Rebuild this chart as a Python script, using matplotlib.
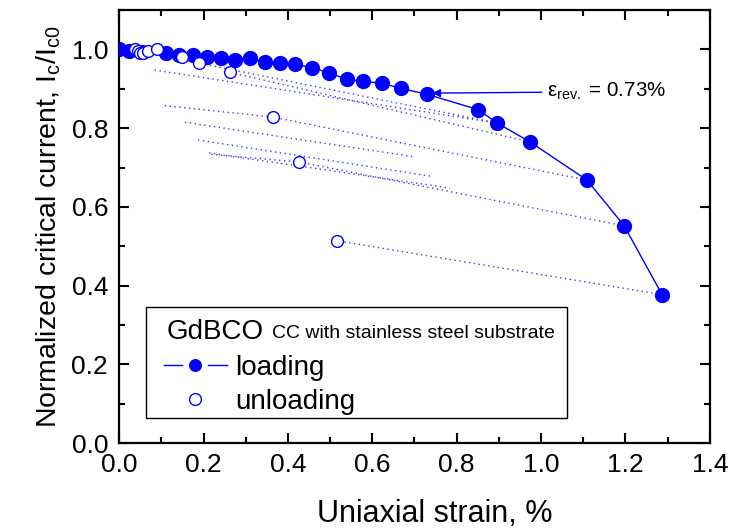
import matplotlib
matplotlib.use("Agg")
import matplotlib.pyplot as plt
from matplotlib.lines import Line2D
from matplotlib.patches import Rectangle
from matplotlib.ticker import MultipleLocator

plt.rcParams['font.family'] = ['Liberation Sans', 'DejaVu Sans']
plt.rcParams['mathtext.fontset'] = 'custom'
plt.rcParams['mathtext.rm'] = 'Liberation Sans'
plt.rcParams['mathtext.it'] = 'Liberation Sans:italic'

# loading curve (filled symbols)
strain_load = [0.0, 0.024, 0.055, 0.111, 0.142, 0.175, 0.209, 0.242, 0.275, 0.31,
               0.346, 0.382, 0.417, 0.457, 0.498, 0.54, 0.578, 0.623, 0.668, 0.73,
               0.851, 0.896, 0.974, 1.109, 1.197, 1.287]
ic_load = [1.0, 0.995, 0.993, 0.99, 0.985, 0.985, 0.982, 0.977, 0.972, 0.977,
           0.967, 0.965, 0.962, 0.954, 0.94, 0.924, 0.919, 0.914, 0.901, 0.886,
           0.847, 0.813, 0.765, 0.668, 0.552, 0.377]

# unloading points (open symbols)
strain_unload = [0.038, 0.045, 0.05, 0.057, 0.069, 0.09, 0.149, 0.19, 0.263,
                 0.365, 0.427, 0.517]
ic_unload = [1.0, 0.995, 0.992, 0.992, 0.995, 1.0, 0.982, 0.965, 0.942,
             0.828, 0.714, 0.514]

# unloading / reloading paths (dotted)
path_a_x, path_a_y = [1.287, 0.517], [0.377, 0.514]
path_b_x, path_b_y = [1.197, 0.427, 0.213], [0.552, 0.714, 0.734]
path_c_x, path_c_y = [1.109, 0.365, 0.102], [0.668, 0.828, 0.858]
path_d_x, path_d_y = [0.974, 0.263], [0.765, 0.942]
path_e_x, path_e_y = [0.896, 0.19], [0.813, 0.965]
path_f_x, path_f_y = [0.896, 0.076], [0.813, 0.949]
path_g_x, path_g_y = [0.156, 0.701], [0.815, 0.727]
path_h_x, path_h_y = [0.187, 0.739], [0.770, 0.678]
path_i_x, path_i_y = [0.213, 0.784], [0.737, 0.648]

eps_rev = 0.73
ic_rev = 0.886

xticks = [0.0, 0.2, 0.4, 0.6, 0.8, 1.0, 1.2, 1.4]
yticks = [0.0, 0.2, 0.4, 0.6, 0.8, 1.0]

blue = '#0000ff'

fig = plt.figure(figsize=(7.31, 5.30), dpi=100)
ax = fig.add_axes([0.163, 0.164, 0.808, 0.817])

paths = [(path_a_x, path_a_y), (path_b_x, path_b_y), (path_c_x, path_c_y),
         (path_d_x, path_d_y), (path_e_x, path_e_y), (path_f_x, path_f_y),
         (path_g_x, path_g_y), (path_h_x, path_h_y), (path_i_x, path_i_y)]
for px, py in paths:
    ax.plot(px, py, linestyle=(0, (1, 2.5)), color='#3a3aff', lw=1.0, zorder=1)

ax.plot(strain_load, ic_load, '-o', color=blue, lw=1.0, ms=10,
        markerfacecolor=blue, markeredgecolor=blue, zorder=3)
ax.plot(strain_unload, ic_unload, 'o', ms=8.5, markerfacecolor='white',
        markeredgecolor=blue, markeredgewidth=1.0, linestyle='none', zorder=4)

ax.annotate(r'$\mathregular{\varepsilon_{rev.}}$ = 0.73%',
            xy=(eps_rev + 0.012, ic_rev + 0.003), xytext=(1.015, 0.879),
            fontsize=14.8, va='baseline', ha='left',
            arrowprops=dict(arrowstyle='-|>', color=blue, lw=1.0,
                            mutation_scale=12, shrinkA=2, shrinkB=0))

ax.set_xlim(0, 1.4)
ax.set_ylim(0, 1.1)
ax.set_xticks(xticks)
ax.set_yticks(yticks)
ax.set_xticklabels([f'{t:.1f}' for t in xticks])
ax.set_yticklabels([f'{t:.1f}' for t in yticks])
ax.xaxis.set_minor_locator(MultipleLocator(0.1))
ax.yaxis.set_minor_locator(MultipleLocator(0.1))
ax.tick_params(which='both', direction='in', top=True, right=True, width=1.5,
               labelsize=19)
ax.tick_params(axis='x', pad=7)
ax.tick_params(axis='y', pad=8)
ax.tick_params(which='major', length=7)
ax.tick_params(which='minor', length=4)
for s in ax.spines.values():
    s.set_linewidth(1.6)

ax.set_xlabel('Uniaxial strain, %', fontsize=22)
ax.xaxis.set_label_coords(0.535, -0.128)
ax.set_ylabel(r'Normalized critical current, I$\mathregular{_c}$/I$\mathregular{_{c0}}$',
              fontsize=20.5, labelpad=6)

# legend box
ax.add_patch(Rectangle((0.0457, 0.0577), 0.712, 0.257, transform=ax.transAxes,
                       fill=False, edgecolor='black', lw=1.0, zorder=5))
ax.text(0.081, 0.257, 'GdBCO', transform=ax.transAxes, fontsize=20,
        va='center', ha='left', zorder=6)
ax.text(0.259, 0.254, 'CC with stainless steel substrate',
        transform=ax.transAxes, fontsize=14, va='center', ha='left', zorder=6)
h_load = Line2D([], [], color=blue, lw=1.0, marker='o', ms=13.6, mew=4.2,
                markerfacecolor=blue, markeredgecolor='white')
h_unload = Line2D([], [], color=blue, lw=0, marker='o', ms=8.5,
                  markerfacecolor='white', markeredgecolor=blue)
ax.legend([h_load, h_unload], ['loading', 'unloading'], loc='upper left',
          bbox_to_anchor=(0.076, 0.203), frameon=False, fontsize=20,
          handlelength=2.25, handletextpad=0.3, labelspacing=0.28,
          borderaxespad=0, borderpad=0.0)

fig.savefig('out.png', dpi=100)
